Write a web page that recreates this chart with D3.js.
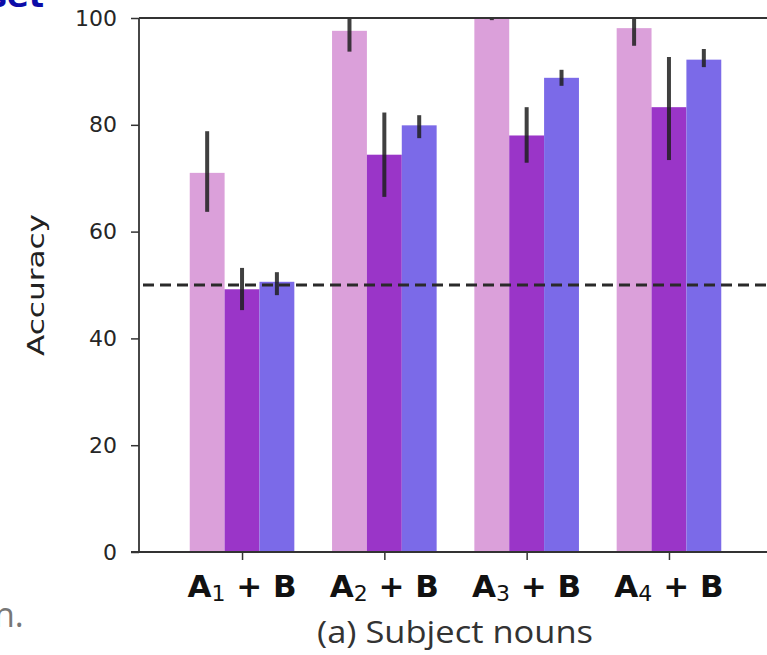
<!DOCTYPE html>
<html lang="en">
<head>
<meta charset="UTF-8">
<title>Subject nouns accuracy</title>
<script src="https://d3js.org/d3.v7.min.js"></script>
<style>
  body { margin: 0; background: #fff; }
  svg { display: block; }
</style>
</head>
<body>
<script>
  // data
  const groups = ["1", "2", "3", "4"];
  const seriesNames = ["s1", "s2", "s3"];
  const seriesColors = ["#dba0da", "#9a35c8", "#7b6ae8"];
  const values = [
    [71.0, 97.6, 100.0, 98.1],
    [49.2, 74.4, 78.0, 83.3],
    [50.6, 79.9, 88.8, 92.2]
  ];
  const errLow = [
    [63.7, 93.7, 99.6, 94.8],
    [45.3, 66.5, 72.9, 73.4],
    [48.1, 77.5, 87.3, 90.8]
  ];
  const errHigh = [
    [78.8, 101.5, 100.4, 101.5],
    [53.2, 82.3, 83.3, 92.7],
    [52.4, 81.8, 90.3, 94.2]
  ];
  const yTicks = [0, 20, 40, 60, 80, 100];
  const chance = 50;

  const W = 767, H = 655;
  const plot = { left: 139, top: 18, bottom: 552, right: 772 };

  const svg = d3.select("body").append("svg")
      .attr("width", W)
      .attr("height", H);

  const x = d3.scaleLinear()
      .domain([-0.724, groups.length - 1 + 0.724])
      .range([plot.left, plot.right]);
  const y = d3.scaleLinear()
      .domain([0, 100])
      .range([plot.bottom, plot.top]);
  const barW = 0.245;

  svg.append("defs").append("clipPath")
      .attr("id", "clip")
    .append("rect")
      .attr("x", plot.left)
      .attr("y", plot.top)
      .attr("width", plot.right - plot.left)
      .attr("height", plot.bottom - plot.top);

  const g = svg.append("g").attr("clip-path", "url(#clip)");

  // bars
  seriesNames.forEach((s, si) => {
    g.selectAll(".bar-" + s)
      .data(values[si])
      .join("rect")
      .attr("x", (d, i) => x(i + (si - 1) * barW - barW / 2))
      .attr("y", d => y(d))
      .attr("width", x(barW) - x(0))
      .attr("height", d => y(0) - y(d))
      .attr("fill", seriesColors[si]);
  });

  // chance line
  g.append("line")
      .attr("x1", plot.left + 4)
      .attr("x2", plot.right)
      .attr("y1", y(chance))
      .attr("y2", y(chance))
      .attr("stroke", "#2a2a2a")
      .attr("stroke-width", 3)
      .attr("stroke-dasharray", "11,6");

  // error bars
  seriesNames.forEach((s, si) => {
    g.selectAll(".err-" + s)
      .data(values[si])
      .join("line")
      .attr("x1", (d, i) => x(i + (si - 1) * barW))
      .attr("x2", (d, i) => x(i + (si - 1) * barW))
      .attr("y1", (d, i) => y(errLow[si][i]))
      .attr("y2", (d, i) => y(errHigh[si][i]))
      .attr("stroke", "#1e1e1e")
      .attr("stroke-opacity", 0.85)
      .attr("stroke-width", 4);
  });

  // y axis
  const yAxis = svg.append("g")
      .attr("transform", `translate(${plot.left},0)`)
      .call(d3.axisLeft(y).tickValues(yTicks).tickSize(8).tickPadding(14));
  yAxis.select(".domain").remove();
  yAxis.selectAll(".tick line").attr("stroke", "#333").attr("stroke-width", 1.5);
  yAxis.selectAll(".tick text")
      .attr("fill", "#262626")
      .style("font-family", "DejaVu Sans")
      .style("font-size", "22px");

  // x ticks
  const xAxis = svg.append("g")
      .attr("transform", `translate(0,${plot.bottom})`)
      .call(d3.axisBottom(x).tickValues(d3.range(groups.length)).tickSize(8).tickFormat(""));
  xAxis.select(".domain").remove();
  xAxis.selectAll(".tick line").attr("stroke", "#333").attr("stroke-width", 1.5);

  // spines
  svg.append("line").attr("x1", plot.left).attr("x2", plot.left)
      .attr("y1", plot.top).attr("y2", plot.bottom)
      .attr("stroke", "#333").attr("stroke-width", 1.8);
  svg.append("line").attr("x1", plot.left - 8).attr("x2", plot.right)
      .attr("y1", plot.bottom).attr("y2", plot.bottom)
      .attr("stroke", "#333").attr("stroke-width", 1.8);
  svg.append("line").attr("x1", plot.left).attr("x2", plot.right)
      .attr("y1", plot.top).attr("y2", plot.top)
      .attr("stroke", "#333").attr("stroke-width", 1.8);

  // group labels  A_n + B
  const lab = svg.selectAll(".glab")
      .data(groups)
      .join("text")
      .attr("x", (d, i) => x(i))
      .attr("y", 597)
      .attr("text-anchor", "middle")
      .attr("fill", "#111")
      .style("font-family", "DejaVu Sans")
      .style("font-size", "31px")
      .style("font-weight", "bold");
  lab.append("tspan").text("A");
  lab.append("tspan")
      .attr("dy", 4)
      .style("font-size", "22px")
      .style("font-weight", "normal")
      .text(d => d);
  lab.append("tspan")
      .attr("dy", -4)
      .text(" + B");

  // axis title
  svg.append("text")
      .attr("transform", `translate(44,285) rotate(-90)`)
      .attr("text-anchor", "middle")
      .attr("fill", "#222")
      .style("font-family", "DejaVu Sans")
      .style("font-size", "23px")
      .attr("textLength", 142)
      .attr("lengthAdjust", "spacingAndGlyphs")
      .text("Accuracy");

  // caption
  svg.append("text")
      .attr("x", 455)
      .attr("y", 643)
      .attr("text-anchor", "middle")
      .attr("fill", "#333")
      .style("font-family", "Open Sans")
      .style("font-size", "31px")
      .attr("textLength", 276)
      .attr("lengthAdjust", "spacingAndGlyphs")
      .text("(a) Subject nouns");

  // cut-off fragments from the surrounding page
  svg.append("text")
      .attr("x", -12)
      .attr("y", 7)
      .attr("fill", "#0c0ca8")
      .style("font-family", "DejaVu Sans")
      .style("font-size", "32px")
      .style("font-weight", "bold")
      .text("set");
  svg.append("text")
      .attr("x", -6)
      .attr("y", 627)
      .attr("fill", "#777")
      .style("font-family", "Open Sans")
      .style("font-size", "34px")
      .text("n.");
</script>
</body>
</html>
